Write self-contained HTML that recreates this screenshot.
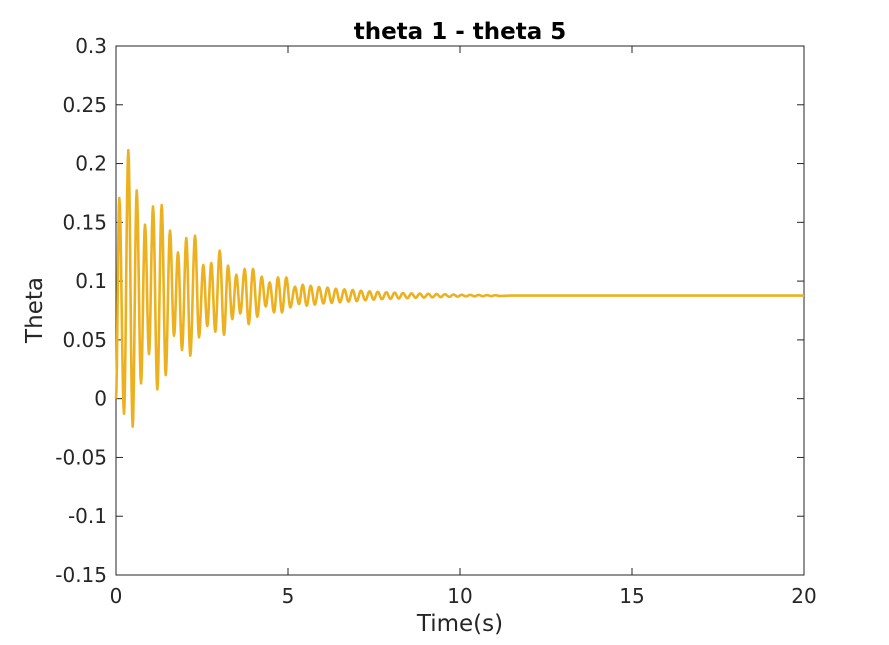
<!DOCTYPE html>
<html><head><meta charset="utf-8"><style>
body{margin:0;background:#fff;}
svg{display:block;font-family:"DejaVu Sans","Liberation Sans",sans-serif;}
</style></head><body>
<svg id="c" width="889" height="645"></svg>
<script>
const xTicks=[0,5,10,15,20];
const yTicks=[-0.15,-0.1,-0.05,0,0.05,0.1,0.15,0.2,0.25,0.3];
const yTickLabels=["-0.15","-0.1","-0.05","0","0.05","0.1","0.15","0.2","0.25","0.3"];
const extremaTimes=[0,0.096,0.233,0.358,0.485,0.602,0.727,0.843,0.959,1.076,1.201,1.328,1.445,1.570,1.686,1.802,1.919,2.044,2.160,2.297,2.413,2.538,2.654,2.770,2.887,3.015,3.140,3.256,3.381,3.497,3.613,3.741,3.858,3.983,4.108,4.235,4.352,4.468,4.593,4.709,4.826,4.951,5.067,5.203,5.320,5.427,5.544,
5.66,5.78,5.90,6.03,6.15,6.27,6.39,6.51,6.64,6.76,6.88,7.00,7.12,7.25,7.37,7.49,7.61,7.73,7.86,7.98,8.10,8.22,8.34,8.47,8.59,8.71,8.83,8.95,9.08,9.20,9.32,9.44,9.56,9.69,9.81,9.93,10.05,10.17,10.30,10.42,10.54,10.66,10.78,10.91,11.03,11.15,11.5,20];
const extremaValues=[0,0.1707,-0.0128,0.2114,-0.0238,0.1771,0.0130,0.1480,0.0380,0.1635,0.0079,0.1647,0.0201,0.1429,0.0536,0.1244,0.0414,0.1366,0.0366,0.1386,0.0522,0.1137,0.0618,0.1154,0.0570,0.1259,0.0544,0.1131,0.0677,0.1054,0.0725,0.1103,0.0635,0.1103,0.0697,0.1037,0.0785,0.0988,0.0734,0.1031,0.0734,0.1031,0.0776,0.0952,0.0805,0.0969,0.0791,
0.0960,0.0800,0.0950,0.0810,0.0945,0.0815,0.0935,0.0820,0.0930,0.0825,0.0925,0.0830,0.0918,0.0837,0.0913,0.0842,0.0909,0.0846,0.0905,0.0849,0.0902,0.0852,0.0899,0.0855,0.0896,0.0858,0.0894,0.0860,0.0892,0.0862,0.0890,0.0864,0.0888,0.0866,0.0886,0.0868,0.0884,0.0870,0.0883,0.0871,0.0882,0.0872,0.0881,0.0873,0.0880,0.0874,0.0877,0.0877];

const L=116,R=804,T=46,B=575;
const xMin=0,xMax=20,yMin=-0.15,yMax=0.3;
const sx=v=>L+(v-xMin)/(xMax-xMin)*(R-L);
const sy=v=>B-(v-yMin)/(yMax-yMin)*(B-T);
const svg=document.getElementById('c');
const NS='http://www.w3.org/2000/svg';
function mk(tag,attrs,parent){const e=document.createElementNS(NS,tag);for(const k in attrs)e.setAttribute(k,attrs[k]);(parent||svg).appendChild(e);return e;}

const box=mk('rect',{x:L,y:T,width:R-L,height:B-T,fill:'#fff',stroke:'#262626','stroke-width':1});



xTicks.forEach(v=>{
  const x=sx(v);
  mk('line',{x1:x,y1:B,x2:x,y2:B-7,stroke:'#262626'});
  mk('line',{x1:x,y1:T,x2:x,y2:T+7,stroke:'#262626'});
  const t=mk('text',{x:x,y:B+28,'text-anchor':'middle','font-size':20,fill:'#262626'});
  t.textContent=String(v);
  
  
});
yTicks.forEach((v,i)=>{
  const y=sy(v);
  mk('line',{x1:L,y1:y,x2:L+7,y2:y,stroke:'#262626'});
  mk('line',{x1:R,y1:y,x2:R-7,y2:y,stroke:'#262626'});
  const t=mk('text',{x:L-9,y:y+7,'text-anchor':'end','font-size':20,fill:'#262626'});
  t.textContent=yTickLabels[i];
  
  
});

let d='M'+sx(extremaTimes[0]).toFixed(2)+','+sy(extremaValues[0]).toFixed(2);
for(let i=1;i<extremaTimes.length;i++){
  const t0=extremaTimes[i-1],t1=extremaTimes[i],v0=extremaValues[i-1],v1=extremaValues[i];
  const n=8;
  for(let k=1;k<=n;k++){
    const f=k/n,w=(1-Math.cos(Math.PI*f))/2;
    d+='L'+sx(t0+(t1-t0)*f).toFixed(2)+','+sy(v0+(v1-v0)*w).toFixed(2);
  }
}
const line=mk('path',{d:d,fill:'none',stroke:'#EDB120','stroke-width':2.6,'stroke-linejoin':'round'});



const title=mk('text',{x:(L+R)/2,y:39,'text-anchor':'middle','font-size':23,'font-weight':'bold',fill:'#000'});
title.textContent='theta 1 - theta 5';


const xl=mk('text',{x:(L+R)/2,y:631,'text-anchor':'middle','font-size':23,fill:'#262626'});
xl.textContent='Time(s)';


const yl=mk('text',{x:0,y:0,'text-anchor':'middle','font-size':23,fill:'#262626',transform:'translate(42,310) rotate(-90)'});
yl.textContent='Theta';


</script>
</body></html>
